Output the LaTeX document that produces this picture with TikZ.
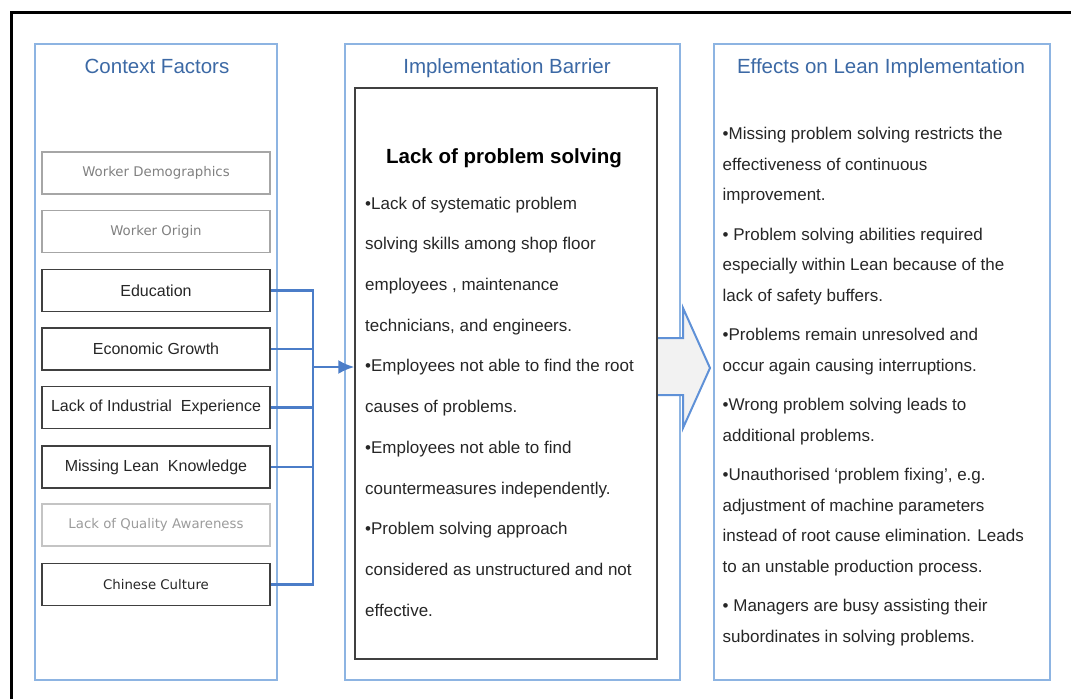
\documentclass[tikz,border=0pt]{standalone}
\usepackage{fontspec}
\setmainfont{Liberation Sans}
\newfontfamily\labelfont{DejaVu Sans}
\usetikzlibrary{arrows.meta}
\definecolor{panelblue}{RGB}{141,180,226}
\definecolor{titleblue}{RGB}{60,105,165}
\definecolor{linkblue}{RGB}{75,125,200}
\definecolor{arrowblue}{RGB}{95,145,215}
\definecolor{arrowfill}{RGB}{242,242,242}
\definecolor{boxdark}{RGB}{64,64,64}
\definecolor{boxgray}{RGB}{166,166,166}
\definecolor{boxlight}{RGB}{196,196,196}
\definecolor{textgray}{RGB}{128,128,128}
\definecolor{textlight}{RGB}{155,155,155}
\definecolor{textdark}{RGB}{38,38,38}
\tikzset{panel/.style = {draw = panelblue, line width = 1.5pt, inner sep = 0}}
\tikzset{heading/.style = {anchor = base, text = titleblue, inner sep = 0, font = \fontsize{20.5}{24}\selectfont}}
\tikzset{factor/.style = {draw = boxdark, line width = 1.8pt, minimum width = 228, minimum height = 42, inner sep = 0, text = textdark, font = \fontsize{16}{19}\selectfont}}
\tikzset{faint/.style = {factor, draw = boxgray, text = textgray, font = \labelfont\fontsize{13.3}{16}\selectfont}}
\tikzset{bullets/.style = {anchor = north west, align = left, inner sep = 0, text = textdark}}
\tikzset{link/.style = {draw = linkblue, line width = 2.2pt, line join = miter}}
\tikzset{edge/.style = {link, -{Latex[length = 16pt, width = 14pt]}}}
\tikzset{bigarrow/.style = {draw = arrowblue, fill = arrowfill, line width = 2pt, line join = miter}}

\begin{document}
\begin{tikzpicture}[x = 1pt, y = -1pt]
			\useasboundingbox (0, 0) rectangle (1071, 699);
			\draw[line width = 3pt] (11, 699) -- (11, 12) -- (1071, 12);

			\node[panel, minimum width = 242, minimum height = 636] (p) at (156, 362) {};
			\node[panel, minimum width = 335, minimum height = 636] (q) at (512.5, 362) {};
			\node[panel, minimum width = 336, minimum height = 636] (r) at (882, 362) {};

			\node[heading] (tp) at (157, 73) {Context Factors};
			\node[heading] (tq) at (507, 73) {Implementation Barrier};
			\node[heading] (tr) at (881, 73) {Effects on Lean Implementation};

			\draw[bigarrow] (657, 338) -- (683, 338) -- (683, 308) -- (710, 368) -- (683, 428) -- (683, 395) -- (657, 395);

			\node[draw = boxdark, line width = 1.5pt, minimum width = 302, minimum height = 571, inner sep = 0] (bar) at (506, 373.5) {};
			\node[anchor = base, inner sep = 0, font = \bfseries\fontsize{20.5}{24}\selectfont] (bt) at (504, 163) {Lack of problem solving};
			\node[bullets, font = \fontsize{17}{40.7}\selectfont] (bl) at (365, 196.6) {%
				•Lack of systematic problem\\
				solving skills among shop floor\\
				employees , maintenance\\
				technicians, and engineers.\\
				•Employees not able to find the root\\
				causes of problems.\\
				•Employees not able to find\\
				countermeasures independently.\\
				•Problem solving approach\\
				considered as unstructured and not\\
				effective.};

			\node[bullets, font = \fontsize{17}{30.5}\selectfont] (el) at (722.5, 127.1) {%
				•Missing problem solving restricts the\\
				effectiveness of continuous\\
				improvement.\\[9pt]
				• Problem solving abilities required\\
				especially within Lean because of the\\
				lack of safety buffers.\\[9pt]
				•Problems remain unresolved and\\
				occur again causing interruptions.\\[9pt]
				•Wrong problem solving leads to\\
				additional problems.\\[9pt]
				•Unauthorised ‘problem fixing’, e.g.\\
				adjustment of machine parameters\\
				instead of root cause elimination. Leads\\
				to an unstable production process.\\[9pt]
				• Managers are busy assisting their\\
				subordinates in solving problems.};

			\node[faint] (a) at (156, 173) {Worker Demographics};
			\node[faint] (b) at (156, 231.5) {Worker Origin};
			\node[factor] (c) at (156, 290.5) {Education};
			\node[factor] (d) at (156, 349) {Economic Growth};
			\node[factor] (e) at (156, 407.5) {Lack of Industrial\ \ Experience};
			\node[factor] (f) at (156, 467) {Missing Lean\ \ Knowledge};
			\node[faint, draw = boxlight, text = textlight] (g) at (156, 525) {Lack of Quality\ Awareness};
			\node[factor, font = \labelfont\fontsize{13.3}{16}\selectfont] (h) at (156, 584.5) {Chinese Culture};

			\coordinate (bus) at (313, 367);
			\draw[link] (c.east) -- (c.east -| bus) -- (h.east -| bus) -- (h.east);
			\draw[link] (d.east) -- (d.east -| bus);
			\draw[link] (e.east) -- (e.east -| bus);
			\draw[link] (f.east) -- (f.east -| bus);
			\draw[edge] (bus) -- (bus -| bar.west);
		\end{tikzpicture}
\end{document}
